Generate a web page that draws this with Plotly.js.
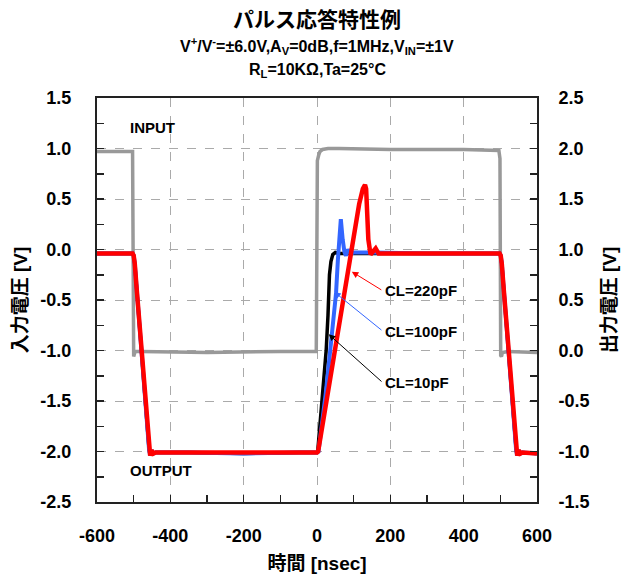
<!DOCTYPE html>
<html>
<head>
<meta charset="utf-8">
<script src="https://cdn.plot.ly/plotly-3.0.1.min.js"></script>
<style>html,body{margin:0;padding:0;background:#fff;}</style>
</head>
<body>
<div id="chart" style="width:629px;height:577px;"></div>
<script>
// ---- Data (time in nsec) ----
// Input waveform (left axis)
const inputX = [-600, -520, -503, -500, -498, -496, -480, -300, -100, -2, 1, 3, 5, 8, 15, 30, 60, 200, 400, 496, 499, 501, 503, 506, 520, 600];
const inputY = [0.97, 0.97, 0.97, -1.06, -1.04, -1.01, -1.01, -1.02, -1.01, -1.01, 0.88, 0.93, 0.94, 0.97, 0.99, 1.0, 1.0, 0.99, 0.99, 0.98, 0.9, -1.05, -1.06, -1.02, -1.01, -1.02];

// Output common segments (right axis)
const fall1X = [-600, -503, -500, -497, -492, -485, -475, -465, -458, -455, -451, -446, -440, -350, -200, -50, 0];
const fall1Y = [0.96, 0.96, 0.94, 0.86, 0.62, 0.28, -0.2, -0.68, -0.98, -1.04, -0.99, -1.02, -1.01, -1.01, -1.02, -1.01, -1.01];
const fall2X = [300, 450, 498, 501, 504, 509, 516, 526, 536, 543, 546, 550, 555, 560, 600];
const fall2Y = [0.96, 0.96, 0.96, 0.94, 0.86, 0.62, 0.28, -0.2, -0.68, -0.98, -1.04, -0.99, -1.02, -1.01, -1.02];

// Rising edges per load capacitance
const rise10X = [2, 15, 25, 30, 34, 38, 43, 50, 60, 150];
const rise10Y = [-1.0, -0.45, 0.0, 0.35, 0.75, 0.88, 0.95, 0.97, 0.96, 0.96];
const rise100X = [4, 24, 38, 52, 57, 61, 65, 70, 75, 79, 85, 92, 100, 150];
const rise100Y = [-1.0, -0.42, 0.07, 0.57, 0.9, 1.2, 1.30, 1.1, 0.97, 0.94, 1.0, 0.96, 0.97, 0.97];
const rise220X = [3, 30, 60, 90, 115, 125, 131, 134, 140, 146, 152, 160, 168, 175];
const rise220Y = [-1.0, -0.4, 0.25, 0.9, 1.45, 1.6, 1.64, 1.6, 1.1, 0.95, 0.97, 1.01, 0.96, 0.96];

const yLeftTicks = [1.5, 1.0, 0.5, 0.0, -0.5, -1.0, -1.5, -2.0, -2.5];
const yLeftText = ["1.5", "1.0", "0.5", "0.0", "-0.5", "-1.0", "-1.5", "-2.0", "-2.5"];
const yRightTicks = [2.5, 2.0, 1.5, 1.0, 0.5, 0.0, -0.5, -1.0, -1.5];
const yRightText = ["2.5", "2.0", "1.5", "1.0", "0.5", "0.0", "-0.5", "-1.0", "-1.5"];
const xTicks = [-600, -400, -200, 0, 200, 400, 600];
const xText = ["-600", "-400", "-200", "0", "200", "400", "600"];

const seriesNames = ["INPUT", "CL=10pF", "CL=100pF", "CL=220pF"];

const F = "Liberation Sans, Arial, Noto Sans CJK JP, sans-serif";

function out(riseX, riseY) {
  return { x: fall1X.concat(riseX, fall2X), y: fall1Y.concat(riseY, fall2Y) };
}
const o10 = out(rise10X, rise10Y), o100 = out(rise100X, rise100Y), o220 = out(rise220X, rise220Y);

const traces = [
  {x: inputX, y: inputY, name: seriesNames[0], mode: 'lines', yaxis: 'y', line: {color: '#999999', width: 3.5}},
  {x: o10.x, y: o10.y, name: seriesNames[1], mode: 'lines', yaxis: 'y2', line: {color: '#000000', width: 3.5}},
  {x: o100.x, y: o100.y, name: seriesNames[2], mode: 'lines', yaxis: 'y2', line: {color: '#3366ff', width: 4}},
  {x: o220.x, y: o220.y, name: seriesNames[3], mode: 'lines', yaxis: 'y2', line: {color: '#ff0000', width: 4.5}}
];

const tickFont = {family: F, size: 18, color: '#000', weight: 'bold'};
const lblFont = {family: F, size: 15, color: '#000', weight: 'bold'};

const layout = {
  width: 629, height: 577,
  margin: {l: 97, r: 92, t: 98, b: 75},
  paper_bgcolor: '#fff', plot_bgcolor: '#fff',
  showlegend: false,
  title: {
    text: '<b>パルス応答特性例</b>',
    font: {family: F, size: 21, color: '#000'},
    x: 0.5, xanchor: 'center', y: 1 - 20/577, yanchor: 'middle', xref: 'paper'
  },
  xaxis: {
    range: [-600, 600], tickvals: xTicks, ticktext: xText,
    ticks: 'inside', ticklen: 7, tickwidth: 1.5, tickcolor: '#222',
    minor: {dtick: 100, ticks: 'inside', ticklen: 7, tickwidth: 1.5, tickcolor: '#222', showgrid: false},
    showline: true, linewidth: 2, linecolor: '#222', mirror: true,
    showgrid: true, gridcolor: '#aaaaaa', griddash: 'dash', gridwidth: 1,
    zeroline: false, tickfont: tickFont, ticklabelstandoff: 16,
    title: {text: '時間 [nsec]', font: {family: F, size: 19, color: '#000', weight: 'bold'}, standoff: 12}
  },
  yaxis: {
    range: [-2.5, 1.5], tickvals: yLeftTicks, ticktext: yLeftText,
    ticks: 'inside', ticklen: 7, tickwidth: 1.5, tickcolor: '#222',
    minor: {dtick: 0.25, ticks: 'inside', ticklen: 7, tickwidth: 1.5, tickcolor: '#222', showgrid: false},
    showline: true, linewidth: 2, linecolor: '#222',
    showgrid: true, gridcolor: '#aaaaaa', griddash: 'dash', gridwidth: 1,
    zeroline: false, tickfont: tickFont, ticklabelstandoff: 20,
    title: {text: '入力電圧 [V]', font: {family: F, size: 19, color: '#000', weight: 'bold'}, standoff: 8}
  },
  yaxis2: {
    range: [-1.5, 2.5], tickvals: yRightTicks, ticktext: yRightText,
    overlaying: 'y', side: 'right',
    ticks: 'inside', ticklen: 7, tickwidth: 1.5, tickcolor: '#222',
    minor: {dtick: 0.25, ticks: 'inside', ticklen: 7, tickwidth: 1.5, tickcolor: '#222', showgrid: false},
    showline: true, linewidth: 2, linecolor: '#222',
    showgrid: false, zeroline: false, tickfont: tickFont, ticklabelstandoff: 16,
    title: {text: '出力電圧 [V]', font: {family: F, size: 19, color: '#000', weight: 'bold'}, standoff: 14}
  },
  annotations: [
    {xref: 'paper', yref: 'paper', x: 0.5, y: 1 + (98 - 46) / 404, xanchor: 'center', yanchor: 'middle', showarrow: false,
     text: '<b>V<sup>+</sup>/V<sup>-</sup>=±6.0V,A<sub>V</sub>=0dB,f=1MHz,V<sub>IN</sub>=±1V</b>',
     font: {family: F, size: 16, color: '#000'}},
    {xref: 'paper', yref: 'paper', x: 0.5, y: 1 + (98 - 71) / 404, xanchor: 'center', yanchor: 'middle', showarrow: false,
     text: '<b>R<sub>L</sub>=10KΩ,Ta=25°C</b>',
     font: {family: F, size: 16, color: '#000'}},
    {xref: 'x', yref: 'y', x: -516, y: 1.21, xanchor: 'left', yanchor: 'middle', showarrow: false, text: 'INPUT', font: lblFont},
    {xref: 'x', yref: 'y', x: -516, y: -2.19, xanchor: 'left', yanchor: 'middle', showarrow: false, text: 'OUTPUT', font: lblFont},
    {xref: 'x', yref: 'y', axref: 'x', ayref: 'y', x: 95, y: -0.22, ax: 180, ay: -0.41,
     xanchor: 'left', yanchor: 'middle', text: 'CL=220pF', font: lblFont, showarrow: true,
     arrowhead: 2, arrowsize: 1.3, arrowwidth: 1, arrowcolor: '#ff0000', startstandoff: 2},
    {xref: 'x', yref: 'y', axref: 'x', ayref: 'y', x: 47, y: -0.42, ax: 180, ay: -0.81,
     xanchor: 'left', yanchor: 'middle', text: 'CL=100pF', font: lblFont, showarrow: true,
     arrowhead: 2, arrowsize: 1.3, arrowwidth: 1, arrowcolor: '#3366ff', startstandoff: 2},
    {xref: 'x', yref: 'y', axref: 'x', ayref: 'y', x: 32, y: -0.84, ax: 180, ay: -1.32,
     xanchor: 'left', yanchor: 'middle', text: 'CL=10pF', font: lblFont, showarrow: true,
     arrowhead: 2, arrowsize: 1.3, arrowwidth: 1, arrowcolor: '#000000', startstandoff: 2}
  ]
};

Plotly.newPlot('chart', traces, layout, {displayModeBar: false, staticPlot: true});
</script>
</body>
</html>
